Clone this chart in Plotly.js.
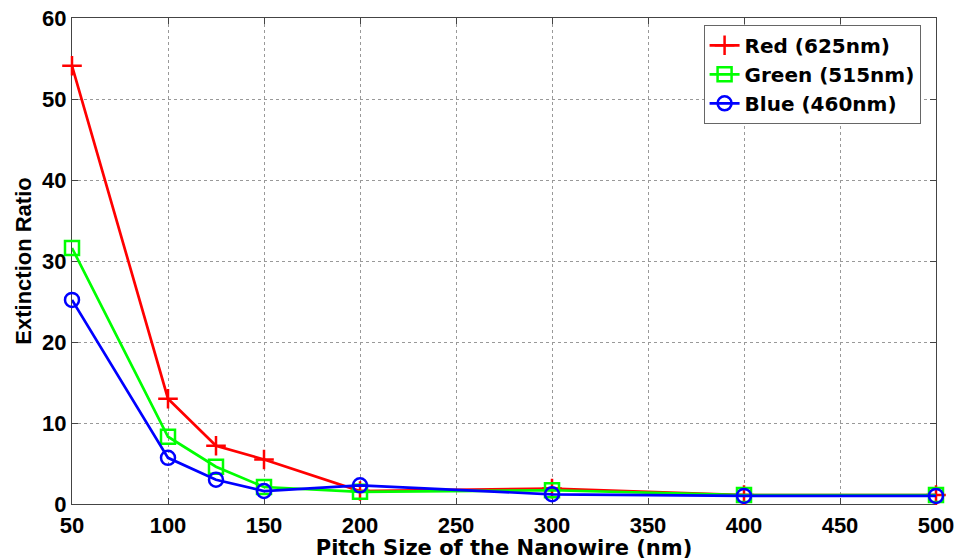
<!DOCTYPE html>
<html>
<head>
<meta charset="utf-8">
<script src="https://cdn.plot.ly/plotly-3.0.1.min.js"></script>
<style>html,body{margin:0;padding:0;background:#fff;}#chart{width:955px;height:560px;}</style>
</head>
<body>
<div id="chart"></div>
<script>
const pitch = [50, 100, 125, 150, 200, 300, 400, 500];
const redVals = [54.1, 13.0, 7.2, 5.5, 1.6, 1.9, 1.1, 1.1];
const greenVals = [31.6, 8.3, 4.6, 2.1, 1.5, 1.7, 1.1, 1.1];
const blueVals = [25.2, 5.7, 3.0, 1.6, 2.3, 1.2, 1.0, 1.0];
const names = ['Red (625nm)', 'Green (515nm)', 'Blue (460nm)'];
const xTicks = [50, 100, 150, 200, 250, 300, 350, 400, 450, 500];
const yTicks = [0, 10, 20, 30, 40, 50, 60];

const fam = 'Liberation Sans, Arial, sans-serif';
const wide = 'DejaVu Sans, sans-serif';
function tr(y, name, color, symbol) {
  return {x: pitch, y: y, name: name, type: 'scatter', mode: 'lines+markers',
    cliponaxis: false,
    line: {color: color, width: 2.7},
    marker: {symbol: symbol, size: 14, color: color, line: {color: color, width: 2.5}}};
}
const data = [
  tr(redVals, names[0], '#ff0000', 'cross-thin-open'),
  tr(greenVals, names[1], '#00ff00', 'square-open'),
  tr(blueVals, names[2], '#0000ff', 'circle-open')
];
const axisCommon = {
  showline: true, linecolor: '#444', linewidth: 1, mirror: 'ticks',
  ticks: 'inside', ticklen: 6, tickcolor: '#444',
  showgrid: true, gridcolor: '#999', griddash: 'dot', gridwidth: 1,
  zeroline: false, tickfont: {family: fam, size: 22, color: '#000', weight: 'bold'},
  automargin: false, layer: 'below traces'
};
const layout = {
  width: 955, height: 560,
  margin: {l: 72, r: 19, t: 18, b: 56},
  paper_bgcolor: '#fff', plot_bgcolor: '#fff',
  font: {family: fam, size: 21, color: '#000'},
  showlegend: true,
  xaxis: Object.assign({}, axisCommon, {
    range: [50, 500], tickvals: xTicks, ticktext: xTicks.map(String),
    ticklabelstandoff: 2,
    title: {text: '<b>Pitch Size of the Nanowire (nm)</b>', font: {family: wide, size: 21, color: '#000'}, standoff: 4}
  }),
  yaxis: Object.assign({}, axisCommon, {
    range: [0, 60], tickvals: yTicks, ticktext: yTicks.map(String),
    ticklabelstandoff: 0,
    title: {text: '<b>Extinction Ratio</b>', font: {family: fam, size: 22, color: '#000'}, standoff: 4}
  }),
  legend: {
    x: 0.731, y: 0.986, xanchor: 'left', yanchor: 'top',
    bgcolor: '#fff', bordercolor: '#666', borderwidth: 1,
    font: {family: wide, size: 20, color: '#000', weight: 'bold'},
    tracegroupgap: 0
  }
};
Plotly.newPlot('chart', data, layout, {displayModeBar: false, staticPlot: true});
</script>
</body>
</html>
